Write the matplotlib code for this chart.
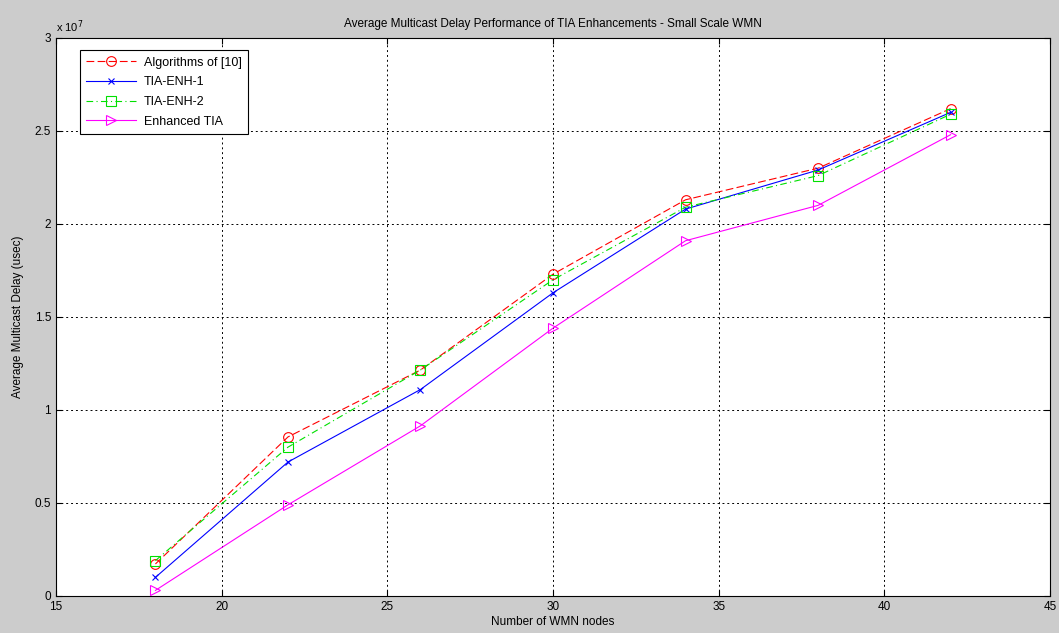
import matplotlib
matplotlib.use("Agg")
import matplotlib.pyplot as plt

nodes = [18, 22, 26, 30, 34, 38, 42]
alg10 = [0.172, 0.855, 1.215, 1.73, 2.13, 2.30, 2.62]
enh1 = [0.10, 0.72, 1.11, 1.63, 2.08, 2.29, 2.60]
enh2 = [0.19, 0.80, 1.215, 1.70, 2.09, 2.26, 2.59]
enhtia = [0.03, 0.49, 0.915, 1.44, 1.91, 2.10, 2.48]
scale = 1e7

plt.rcParams['font.family'] = ['Liberation Sans', 'DejaVu Sans']
plt.rcParams['font.size'] = 8.5

fig = plt.figure(figsize=(10.59, 6.33), dpi=100, facecolor='#cccccc')
ax = fig.add_axes([0.0529, 0.0585, 0.9386, 0.8815])
ax.set_facecolor('white')

ax.plot(nodes, [v * scale for v in alg10], color='red', ls=(0, (7, 3)), lw=0.8,
        marker='o', ms=7, mfc='none', mec='red', mew=0.8, label='Algorithms of [10]')
ax.plot(nodes, [v * scale for v in enh1], color='blue', ls='-', lw=0.8,
        marker='x', ms=5, mec='blue', mew=0.8, label='TIA-ENH-1')
ax.plot(nodes, [v * scale for v in enh2], color='#00e000', ls=(0, (6, 3, 1, 3)), lw=0.8,
        marker='s', ms=7, mfc='none', mec='#00e000', mew=0.8, label='TIA-ENH-2')
ax.plot(nodes, [v * scale for v in enhtia], color='magenta', ls='-', lw=0.8,
        marker='>', ms=7, mfc='none', mec='magenta', mew=0.8, label='Enhanced TIA')

ax.set_xlim(15, 45)
ax.set_ylim(0, 3e7)
ax.set_xticks([15, 20, 25, 30, 35, 40, 45])
yt = [0, 0.5, 1, 1.5, 2, 2.5, 3]
ax.set_yticks([v * scale for v in yt])
ax.set_yticklabels(['0', '0.5', '1', '1.5', '2', '2.5', '3'])
ax.tick_params(direction='in', length=4, width=0.8, top=True, right=True, labelsize=8.5)
ax.grid(True, color='black', ls=(0, (2, 3)), lw=0.7)
for s in ax.spines.values():
    s.set_linewidth(0.8)

ax.text(0.0, 1.005, r'x 10$^7$', transform=ax.transAxes, fontsize=8, ha='left', va='bottom')
ax.set_title('Average Multicast Delay Performance of TIA Enhancements - Small Scale WMN',
             fontsize=8.5, pad=8)
ax.set_xlabel('Number of WMN nodes', fontsize=8.5, labelpad=2)
ax.set_ylabel('Average Multicast Delay (usec)', fontsize=8.5, labelpad=8)

leg = ax.legend(loc='upper left', bbox_to_anchor=(0.024, 0.978), borderaxespad=0,
                fancybox=False, edgecolor='black', framealpha=1, fontsize=9,
                handlelength=4, borderpad=0.5, labelspacing=0.62, handletextpad=0.6)
leg.get_frame().set_linewidth(0.8)

fig.savefig('out.png', dpi=100, facecolor=fig.get_facecolor())
